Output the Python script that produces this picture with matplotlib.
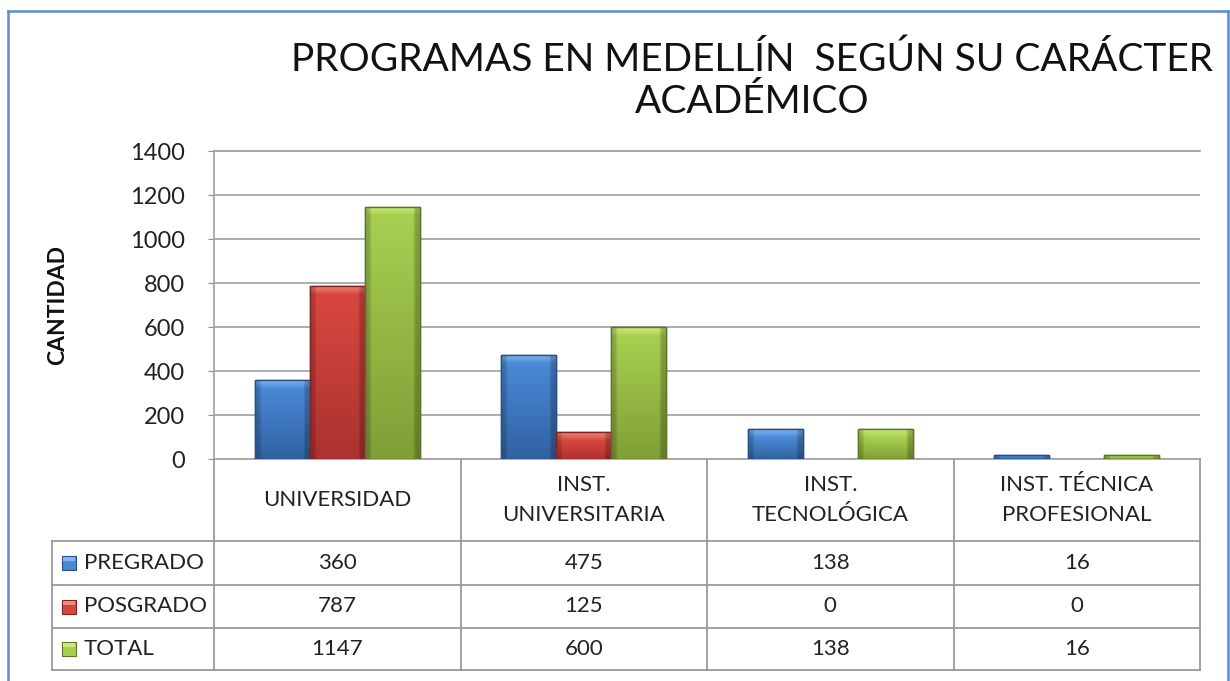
import matplotlib
matplotlib.use("Agg")
import matplotlib.pyplot as plt
import numpy as np
from matplotlib.transforms import Affine2D
from matplotlib.lines import Line2D
from matplotlib.patches import Rectangle
from matplotlib.colors import to_rgb

plt.rcParams['font.family'] = ['Lato', 'DejaVu Sans']

# ---------------- data ----------------
title = "PROGRAMAS EN MEDELLÍN  SEGÚN SU CARÁCTER\nACADÉMICO"
categories = ["UNIVERSIDAD", "INST.\nUNIVERSITARIA", "INST.\nTECNOLÓGICA",
              "INST. TÉCNICA\nPROFESIONAL"]
series_names = ["PREGRADO", "POSGRADO", "TOTAL"]
pregrado = [360, 475, 138, 16]
posgrado = [787, 125, 0, 0]
total = [1147, 600, 138, 16]
yticks = [0, 200, 400, 600, 800, 1000, 1200, 1400]
ylabel = "CANTIDAD"

series = [pregrado, posgrado, total]
# (bevel, top, bottom, edge)
styles = [
    ("#86b8f0", "#4a89d6", "#3061a0", "#274f85"),
    ("#f08a80", "#d8473f", "#aa3230", "#7e2422"),
    ("#cdea78", "#a7cf50", "#7f9e36", "#5c7527"),
]

W, H = 1230, 681
fig = plt.figure(figsize=(W / 100, H / 100), dpi=100)
fig.patch.set_facecolor("white")
px = Affine2D().scale(1 / W, -1 / H).translate(0, 1) + fig.transFigure

# plot area in pixels
L, R, T, B = 214, 1200, 151, 459
ax = fig.add_axes([L / W, 1 - B / H, (R - L) / W, (B - T) / H])
ax.set_xlim(-0.5, len(categories) - 0.5)
ax.set_ylim(0, 1400)
ax.set_yticks(yticks)
ax.set_yticklabels([str(v) for v in yticks], fontsize=17, color="#222222")
ax.set_xticks([])
ax.tick_params(axis="y", length=4, color="#8c8c8c", pad=17)
ax.yaxis.grid(True, color="#a6a6a6", linewidth=1.3)
ax.set_axisbelow(True)
ax.spines["right"].set_visible(False)
for s in ["left", "top", "bottom"]:
    ax.spines[s].set_color("#a6a6a6")
    ax.spines[s].set_linewidth(1.3)

x = np.arange(len(categories))
bw = 0.223
offs = [-bw, 0, bw]

for vals, off, (bev, top, bot, edge) in zip(series, offs, styles):
    bars = ax.bar(x + off, vals, bw, color=top, edgecolor=edge, linewidth=1.0, zorder=3)
    for p in bars:
        h = p.get_height()
        if h <= 0:
            p.set_visible(False)
            continue
        x0, w = p.get_x(), p.get_width()
        hp = h / 1400 * (B - T)  # height in pixels
        n = max(int(round(hp)), 2)
        bev_n = min(9, max(1, n // 3))
        c_top, c_bot, c_bev = np.array(to_rgb(top)), np.array(to_rgb(bot)), np.array(to_rgb(bev))
        rows = []
        for i in range(n):
            if i < bev_n:
                t = i / max(bev_n, 1)
                rows.append(c_bev * (1 - t) + c_top * t)
            else:
                t = (i - bev_n) / max(n - bev_n, 1)
                rows.append(c_top * (1 - t) + c_bot * t)
        img = np.array(rows)[:, None, :]
        cols = 20
        shade = np.ones(cols)
        shade[:2] = 0.82
        shade[-2:] = 0.78
        img = img * shade[None, :, None]
        im = ax.imshow(np.clip(img, 0, 1), extent=(x0, x0 + w, 0, h), aspect="auto",
                       zorder=3.5, interpolation="bilinear")
        im.set_clip_path(p)
        ax.add_patch(Rectangle((x0, 0), w, h, fill=False, edgecolor=edge,
                               linewidth=1.0, zorder=4))
ax.set_xlim(-0.5, len(categories) - 0.5)
ax.set_ylim(0, 1400)

# y label
fig.text(58 / W, 1 - 305 / H, ylabel, rotation=90, ha="center", va="center",
         fontsize=16.5, fontweight="bold", color="#111111")

# title
fig.text(752 / W, 1 - 81 / H, title, ha="center", va="center", fontsize=28,
         color="#111111", linespacing=1.2)

# ---------------- data table ----------------
grid_c = "#9a9a9a"
lw = 1.3
col_edges = [L + (R - L) * i / len(categories) for i in range(len(categories) + 1)]
row_edges = [B, 541, 585, 628, 670]
LEFT = 52
tfs = 16

def hline(x0, x1, y):
    fig.add_artist(Line2D([x0, x1], [y, y], transform=px, color=grid_c, lw=lw))

def vline(xx, y0, y1):
    fig.add_artist(Line2D([xx, xx], [y0, y1], transform=px, color=grid_c, lw=lw))

for y in row_edges[1:]:
    hline(LEFT, R, y)
for xx in col_edges:
    vline(xx, B, row_edges[-1])
vline(LEFT, row_edges[1], row_edges[-1])

for i, cat in enumerate(categories):
    cx = (col_edges[i] + col_edges[i + 1]) / 2
    fig.text(cx / W, 1 - (row_edges[0] + row_edges[1]) / 2 / H, cat, ha="center",
             va="center", fontsize=tfs, color="#222222", linespacing=1.6)
    for r, vals in enumerate(series):
        cy = (row_edges[r + 1] + row_edges[r + 2]) / 2
        fig.text(cx / W, 1 - cy / H, str(vals[i]), ha="center", va="center",
                 fontsize=tfs, color="#222222")

for r, (name, (bev, top, bot, edge)) in enumerate(zip(series_names, styles)):
    cy = (row_edges[r + 1] + row_edges[r + 2]) / 2
    fig.add_artist(Rectangle((62, cy - 7), 14, 14, transform=px, facecolor=top,
                             edgecolor=edge, lw=0.8))
    fig.add_artist(Rectangle((63, cy - 6), 12, 4, transform=px, facecolor=bev,
                             edgecolor="none"))
    fig.text(84 / W, 1 - cy / H, name, ha="left", va="center", fontsize=tfs,
             color="#222222")

# outer frame
frame_c = "#5b8ccc"
fig.add_artist(Line2D([8, 8], [11, H], transform=px, color=frame_c, lw=1.8))
fig.add_artist(Line2D([8, 1228], [11, 11], transform=px, color=frame_c, lw=1.8))
fig.add_artist(Line2D([1228, 1228], [11, H], transform=px, color=frame_c, lw=1.8))

fig.savefig("out.png", dpi=100, facecolor="white")
